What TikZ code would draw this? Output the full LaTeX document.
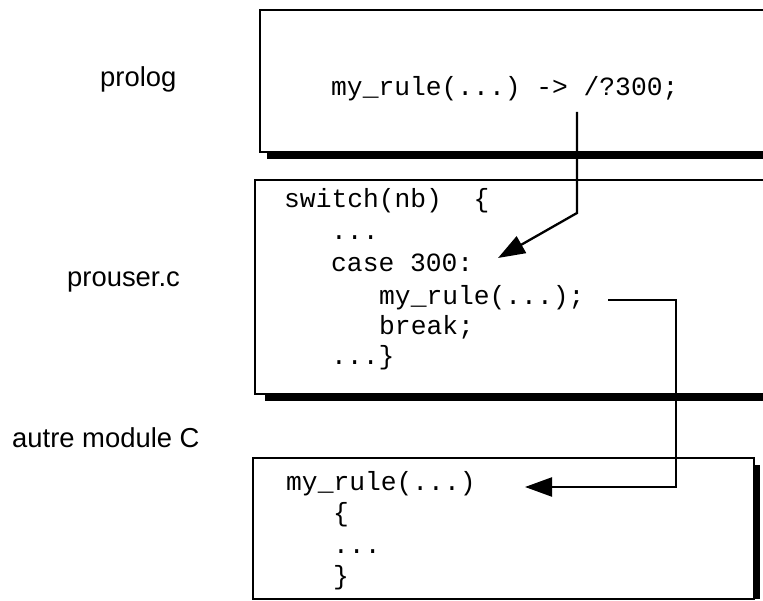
\documentclass[tikz,border=0pt]{standalone}
\usepackage{fontspec}
\setmainfont{Liberation Sans}
\setsansfont{Liberation Sans}
\setmonofont{Liberation Mono}
\usetikzlibrary{arrows.meta}

\begin{document}
\begin{tikzpicture}[x=1pt,y=-1pt,
  codebox/.style={draw=black, line width=2pt, fill=white},
  boxshadow/.style={fill=black},
  codeline/.style={anchor=base west, inner sep=0pt, font=\fontsize{26.3}{30}\selectfont\ttfamily},
  filename/.style={anchor=base west, inner sep=0pt, font=\fontsize{27.4}{30}\selectfont\sffamily},
  callarrow/.style={line width=2.3pt, -{Triangle[length=27pt,width=19pt]}},
]
\clip (0,0) rectangle (763,601);

% module names
\node[filename] (lprolog) at (100,87) {prolog};
\node[filename] (lprouser) at (67,287) {prouser.c};
\node[filename] (lautre) at (12,447) {autre module C};

% prolog box
\fill[boxshadow] (267,17) rectangle (795,159);
\draw[codebox] (260,10) rectangle (790,152);
\node[codeline] (prule) at (331,96) {my\_rule(...) -> /?300;};

% prouser.c box
\fill[boxshadow] (265,187) rectangle (795,401);
\draw[codebox] (255,180) rectangle (790,394);
\node[codeline] (sw)    at (284,208) {switch(nb)\ \ \{};
\node[codeline] (dots1) at (331,240) {...};
\node[codeline] (case)  at (331,272) {case 300:};
\node[codeline] (call)  at (379,305) {my\_rule(...);};
\node[codeline] (brk)   at (379,335) {break;};
\node[codeline] (dots2) at (331,365) {...\}};

% other C module box
\fill[boxshadow] (260,465) rectangle (760,599);
\draw[codebox] (253,458) rectangle (754,599);
\node[codeline] (def)   at (286,490) {my\_rule(...)};
\node[codeline] (lbr)   at (333,521) {\{};
\node[codeline] (dots3) at (333,553) {...};
\node[codeline] (rbr)   at (333,584) {\}};

% prolog rule -> case 300
\coordinate (a1s) at (577,112);
\coordinate (a1k) at (577,213);
\coordinate (a1e) at (498,258);
\draw[callarrow] (a1s) -- (a1k) -- (a1e);

% call -> definition
\coordinate (a2s) at (608,300);
\coordinate (a2k) at (676,487);
\coordinate (a2e) at (525,487);
\draw[callarrow] (a2s) -| (a2k) -- (a2e);
\end{tikzpicture}
\end{document}
